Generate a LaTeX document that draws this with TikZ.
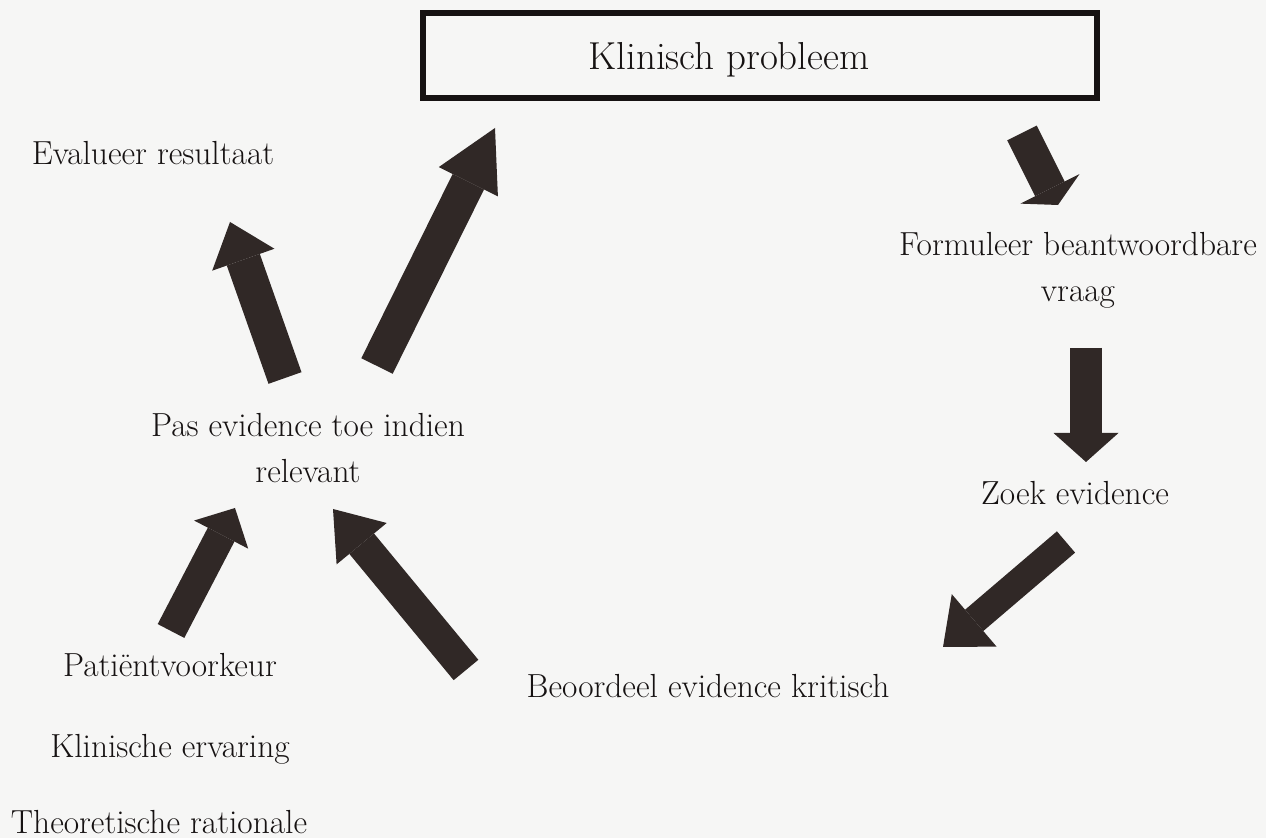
\documentclass[tikz,border=0pt]{standalone}
\usepackage{fontspec}
\usetikzlibrary{arrows.meta}
\definecolor{papier}{RGB}{246,246,245}
\definecolor{inkt}{RGB}{22,18,18}
\definecolor{pijlkleur}{RGB}{48,40,38}
\tikzset{
  tekst/.style={text=inkt, font=\fontsize{16.7}{23}\selectfont, align=center, inner sep=0pt, anchor=base},
  groot/.style={font=\fontsize{19.5}{23}\selectfont},
  kader/.style={draw=inkt, line width=3pt},
  pijl/.style n args={3}{draw=pijlkleur, line width=#1, -{Triangle[length=#2, width=#3, line width=0pt]}},
}
\begin{document}
\begin{tikzpicture}[x=0.5pt, y=-0.5pt]
\fill[papier] (0,0) rectangle (1266,838);
\useasboundingbox (0,0) rectangle (1266,838);
\draw[kader] (423,13) rectangle (1097,98);
\node[tekst, groot] (probleem) at (729,70) {Klinisch probleem};
\node[tekst] (vraag) at (1078,302) {Formuleer beantwoordbare\\vraag};
\node[tekst] (zoek) at (1075,505) {Zoek evidence};
\node[tekst] (beoordeel) at (708,698) {Beoordeel evidence kritisch};
\node[tekst] (toepassen) at (308,483) {Pas evidence toe indien\\relevant};
\node[tekst] (evalueer) at (153,165) {Evalueer resultaat};
\node[tekst] (voorkeur) at (170,677) {Patiëntvoorkeur};
\node[tekst] (ervaring) at (170,758) {Klinische ervaring};
\node[tekst] (rationale) at (159,834) {Theoretische rationale};
\coordinate (van1) at (1022,133); \coordinate (naar1) at (1058,205);
\coordinate (van2) at (1086,348); \coordinate (naar2) at (1086,462);
\coordinate (van3) at (1066,542); \coordinate (naar3) at (943,647);
\coordinate (van4) at (466,670);  \coordinate (naar4) at (333,509);
\coordinate (van5) at (171,631);  \coordinate (naar5) at (235,508);
\coordinate (van6) at (285,378);  \coordinate (naar6) at (230,222);
\coordinate (van7) at (377,366);  \coordinate (naar7) at (495,128);
\draw[pijl={16.5pt}{9pt}{33pt}] (van1) -- (naar1);
\draw[pijl={16pt}{14.5pt}{32.5pt}] (van2) -- (naar2);
\draw[pijl={14pt}{20.5pt}{34.5pt}] (van3) -- (naar3);
\draw[pijl={16pt}{22.5pt}{32.5pt}] (van4) -- (naar4);
\draw[pijl={15pt}{15pt}{30.5pt}] (van5) -- (naar5);
\draw[pijl={17.5pt}{20pt}{33pt}] (van6) -- (naar6);
\draw[pijl={17.5pt}{30pt}{33pt}] (van7) -- (naar7);
\end{tikzpicture}
\end{document}
